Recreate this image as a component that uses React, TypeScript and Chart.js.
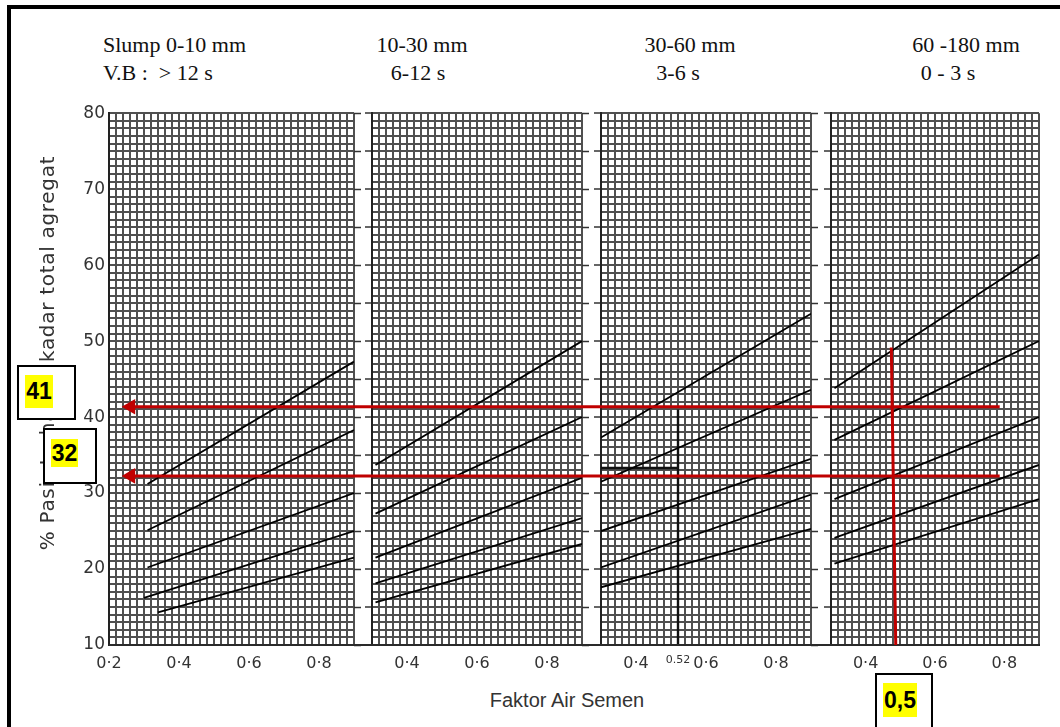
import React, { useEffect, useRef } from 'react';
import { Chart, registerables } from 'chart.js';

Chart.register(...registerables);

// ---------------- data ----------------
const yMin = 10;
const yMax = 80;
const yTickValues = [10, 20, 30, 40, 50, 60, 70, 80];

const slumpHeadline = ['Slump 0-10 mm', '10-30 mm', '30-60 mm', '60 -180 mm'];
const vebeHeadline = ['V.B :  > 12 s', '6-12 s', '3-6 s', '0 - 3 s'];

const fasMin = [0.2, 0.3, 0.3, 0.3];
const fasMax = [0.9, 0.9, 0.9, 0.9];
const fasTickValues = [[0.2, 0.4, 0.6, 0.8], [0.4, 0.6, 0.8], [0.4, 0.52, 0.6, 0.8], [0.4, 0.6, 0.8]];
const fasTickText = [['0·2', '0·4', '0·6', '0·8'], ['0·4', '0·6', '0·8'], ['0·4', '0.52', '0·6', '0·8'], ['0·4', '0·6', '0·8']];

// boundary curves: [fasStart, pctStart, fasEnd, pctEnd]
const curvesSlump0_10 = [
  [0.31, 31.2, 0.9, 47.3],
  [0.31, 25.1, 0.9, 38.3],
  [0.31, 20.2, 0.9, 30.0],
  [0.3, 16.2, 0.9, 25.0],
  [0.34, 14.3, 0.9, 21.5],
];
const curvesSlump10_30 = [
  [0.31, 33.7, 0.9, 50.0],
  [0.31, 27.3, 0.9, 40.0],
  [0.31, 21.5, 0.9, 32.0],
  [0.31, 18.1, 0.9, 26.7],
  [0.31, 15.6, 0.9, 23.3],
];
const curvesSlump30_60 = [
  [0.3, 37.3, 0.9, 53.6],
  [0.3, 31.5, 0.9, 43.6],
  [0.3, 25.0, 0.9, 34.5],
  [0.3, 20.2, 0.9, 29.8],
  [0.3, 17.6, 0.9, 25.3],
];
const curvesSlump60_180 = [
  [0.31, 43.8, 0.9, 61.4],
  [0.31, 37.0, 0.9, 50.0],
  [0.31, 29.2, 0.9, 40.0],
  [0.31, 24.1, 0.9, 33.7],
  [0.31, 20.7, 0.9, 29.2],
];

// hand-drawn reading in the 30-60 mm panel
const handFasLine = [[0.52, 10], [0.52, 41]];
const handPctLine = [[0.3, 33.3], [0.52, 33.3]];

// red read-out lines (x in FAS units of the 60-180 mm panel)
const readoutPercent = [41, 32];
const readoutFrom = -1.74;
const readoutTo = 0.81;
const readoutFasBottom = 0.505;
const readoutFasTop = 0.492;
const readoutFasTopPct = 48.7;
const answerLabels = ['41', '32', '0,5'];

// ---------------- layout ----------------
const PANEL_L = [109, 372, 601, 831];
const PANEL_R = [354, 582, 811, 1039];
const TOP = 107;
const BOTTOM = 645;
const PAD_T = 8;
const PAD_B = 40;
const PAD_R = 12;
const PAD_L = [62, 12, 12, 12];
const W = 1060;
const H = 727;

const GRID = '#505050';
const INK = '#333';

const near = (a: number, b: number) => Math.abs(a - b) < 1e-6;

function Panel({ idx, curves, extra }: { idx: number; curves: number[][]; extra?: number[][][] }) {
  const ref = useRef<HTMLCanvasElement>(null);
  const padL = PAD_L[idx];
  const w = PANEL_R[idx] - PANEL_L[idx] + padL + PAD_R;
  const h = BOTTOM - TOP + PAD_T + PAD_B;

  useEffect(() => {
    if (!ref.current) return;
    const datasets: any[] = curves.map((c) => ({
      data: [{ x: c[0], y: c[1] }, { x: c[2], y: c[3] }],
      borderColor: '#000',
      borderWidth: 1.8,
      pointRadius: 0,
      fill: false,
    }));
    (extra || []).forEach((seg) => {
      datasets.push({
        data: seg.map((p) => ({ x: p[0], y: p[1] })),
        borderColor: '#111',
        borderWidth: 2.4,
        pointRadius: 0,
        fill: false,
      });
    });
    const leftTicks = idx > 0;
    const rightTicks = idx < 3;
    const chart = new Chart(ref.current, {
      type: 'line',
      data: { datasets },
      options: {
        responsive: false,
        animation: false,
        devicePixelRatio: 1,
        layout: { padding: { top: PAD_T, left: 0, right: 0, bottom: 0 } },
        plugins: { legend: { display: false }, tooltip: { enabled: false } },
        scales: {
          x: {
            type: 'linear',
            position: 'bottom',
            min: fasMin[idx],
            max: fasMax[idx],
            afterFit: (s: any) => { s.height = PAD_B; },
            border: { display: true, color: '#222', width: 2 },
            grid: { color: GRID, lineWidth: 2, drawTicks: false },
            ticks: {
              stepSize: 0.02,
              autoSkip: false,
              maxRotation: 0,
              minRotation: 0,
              padding: 9,
              color: INK,
              font: (ctx: any) => ({
                family: 'DejaVu Sans',
                size: ctx.tick && near(ctx.tick.value, 0.52) ? 11 : 16,
              }),
              callback: (v: any) => {
                const vals = fasTickValues[idx];
                for (let i = 0; i < vals.length; i++) if (near(Number(v), vals[i])) return fasTickText[idx][i];
                return '';
              },
            },
          },
          y: {
            type: 'linear',
            position: 'left',
            min: yMin,
            max: yMax,
            afterFit: (s: any) => { s.width = padL; },
            border: { display: true, color: '#222', width: 2 },
            grid: {
              color: GRID,
              lineWidth: 2,
              drawTicks: leftTicks,
              tickLength: 7,
              tickWidth: 1.5,
              tickColor: (ctx: any) =>
                leftTicks && ctx.tick && Math.round(ctx.tick.value) % 5 === 0 ? '#333' : 'rgba(0,0,0,0)',
            },
            ticks: {
              stepSize: 1,
              autoSkip: false,
              padding: 4,
              color: INK,
              font: { family: 'DejaVu Sans', size: 17 },
              callback: (v: any) =>
                idx === 0 && yTickValues.some((t) => near(Number(v), t)) ? String(Math.round(Number(v))) : '',
            },
          },
          y2: {
            type: 'linear',
            position: 'right',
            min: yMin,
            max: yMax,
            afterFit: (s: any) => { s.width = PAD_R; },
            border: { display: false },
            grid: {
              drawOnChartArea: false,
              drawTicks: true,
              tickLength: 7,
              tickWidth: 1.5,
              tickColor: (ctx: any) =>
                rightTicks && ctx.tick && Math.round(ctx.tick.value) % 5 === 0 ? '#333' : 'rgba(0,0,0,0)',
            },
            ticks: { stepSize: 1, autoSkip: false, padding: 0, callback: () => '' },
          },
        },
      } as any,
    });
    return () => chart.destroy();
  }, []);

  return (
    <canvas
      ref={ref}
      width={w}
      height={h}
      style={{ position: 'absolute', left: PANEL_L[idx] - padL, top: TOP - PAD_T, width: w, height: h }}
    />
  );
}

function ReadoutOverlay() {
  const ref = useRef<HTMLCanvasElement>(null);
  useEffect(() => {
    if (!ref.current) return;
    const unit = (fasMax[3] - fasMin[3]) / (PANEL_R[3] - PANEL_L[3]);
    const xMin = fasMin[3] - PANEL_L[3] * unit;
    const xMax = fasMax[3] + (W - PANEL_R[3]) * unit;
    const red = '#c00000';
    const datasets: any[] = readoutPercent.map((p) => ({
      data: [{ x: readoutFrom, y: p }, { x: readoutTo, y: p }],
      borderColor: red,
      borderWidth: 3,
      pointRadius: [9, 0],
      pointStyle: 'triangle',
      pointRotation: -90,
      pointBackgroundColor: red,
      pointBorderColor: red,
      pointBorderWidth: 0,
      fill: false,
    }));
    datasets.push({
      data: [{ x: readoutFasBottom, y: yMin }, { x: readoutFasTop, y: readoutFasTopPct }],
      borderColor: red,
      borderWidth: 3,
      pointRadius: 0,
      fill: false,
    });
    const chart = new Chart(ref.current, {
      type: 'line',
      data: { datasets },
      options: {
        responsive: false,
        animation: false,
        devicePixelRatio: 1,
        layout: { padding: { top: TOP, bottom: H - BOTTOM, left: 0, right: 0 } },
        plugins: { legend: { display: false }, tooltip: { enabled: false } },
        scales: {
          x: { type: 'linear', display: false, min: xMin, max: xMax },
          y: { type: 'linear', display: false, min: yMin, max: yMax },
        },
      } as any,
    });
    return () => chart.destroy();
  }, []);
  return (
    <canvas ref={ref} width={W} height={H} style={{ position: 'absolute', left: 0, top: 0, width: W, height: H }} />
  );
}

function Badge({ left, top, w, h, hl, text }: { left: number; top: number; w: number; h: number; hl: number[]; text: string }) {
  return (
    <div
      style={{
        position: 'absolute',
        left,
        top,
        width: w,
        height: h,
        boxSizing: 'border-box',
        border: '2px solid #000',
        background: '#fff',
      }}
    >
      <div
        style={{
          position: 'absolute',
          left: hl[0] - left - 2,
          top: hl[1] - top - 2,
          width: hl[2],
          height: hl[3],
          background: '#ffff00',
          font: 'bold 23px "Liberation Sans", Arial, sans-serif',
          lineHeight: hl[3] + 'px',
          textAlign: 'center',
          color: '#000',
        }}
      >
        {text}
      </div>
    </div>
  );
}

const serif = '"Liberation Serif", "Times New Roman", serif';

export default function App() {
  const headCenters1 = [0, 422, 690, 966];
  const headCenters2 = [0, 418, 678, 948];
  return (
    <div
      style={{
        position: 'fixed',
        left: 0,
        top: 0,
        width: W,
        height: H,
        background: '#fff',
        overflow: 'hidden',
      }}
    >
      {/* frame */}
      <div
        style={{
          position: 'absolute',
          left: 7,
          top: 5,
          width: W,
          height: H,
          borderLeft: '4px solid #000',
          borderTop: '4px solid #000',
        }}
      />
      {/* headers */}
      {slumpHeadline.map((t, i) => (
        <div
          key={'h1' + i}
          style={{
            position: 'absolute',
            top: 32,
            left: i === 0 ? 103 : headCenters1[i],
            transform: i === 0 ? 'none' : 'translateX(-50%)',
            font: '22px ' + serif,
            whiteSpace: 'pre',
            color: '#111',
            lineHeight: '26px',
          }}
        >
          {t}
        </div>
      ))}
      {vebeHeadline.map((t, i) => (
        <div
          key={'h2' + i}
          style={{
            position: 'absolute',
            top: 60,
            left: i === 0 ? 103 : headCenters2[i],
            transform: i === 0 ? 'none' : 'translateX(-50%)',
            font: '22px ' + serif,
            whiteSpace: 'pre',
            color: '#111',
            lineHeight: '26px',
          }}
        >
          {t}
        </div>
      ))}
      <Panel idx={0} curves={curvesSlump0_10} />
      <Panel idx={1} curves={curvesSlump10_30} />
      <Panel idx={2} curves={curvesSlump30_60} extra={[handFasLine, handPctLine]} />
      <Panel idx={3} curves={curvesSlump60_180} />
      {/* continuous base line through the gaps */}
      <div style={{ position: 'absolute', left: PANEL_L[0], top: BOTTOM - 1, width: PANEL_R[3] - PANEL_L[0], height: 2, background: '#2a2a2a' }} />
      {/* axis titles */}
      <div
        style={{
          position: 'absolute',
          left: 47,
          top: 353,
          transform: 'translate(-50%, -50%) rotate(-90deg)',
          font: '20px "DejaVu Sans", sans-serif',
          letterSpacing: '0.7px',
          whiteSpace: 'nowrap',
          color: INK,
        }}
      >
        % Pasir terhadap kadar total agregat
      </div>
      <div
        style={{
          position: 'absolute',
          left: 567,
          top: 700,
          transform: 'translate(-50%, -50%)',
          font: '20px "Liberation Sans", Arial, sans-serif',
          whiteSpace: 'nowrap',
          color: INK,
        }}
      >
        Faktor Air Semen
      </div>
      <ReadoutOverlay />
      <Badge left={17} top={365} w={59} h={55} hl={[25, 375, 28, 33]} text={answerLabels[0]} />
      <Badge left={43} top={428} w={54} h={56} hl={[51, 439, 27, 28]} text={answerLabels[1]} />
      <Badge left={875} top={673} w={58} h={62} hl={[883, 683, 34, 34]} text={answerLabels[2]} />
    </div>
  );
}
